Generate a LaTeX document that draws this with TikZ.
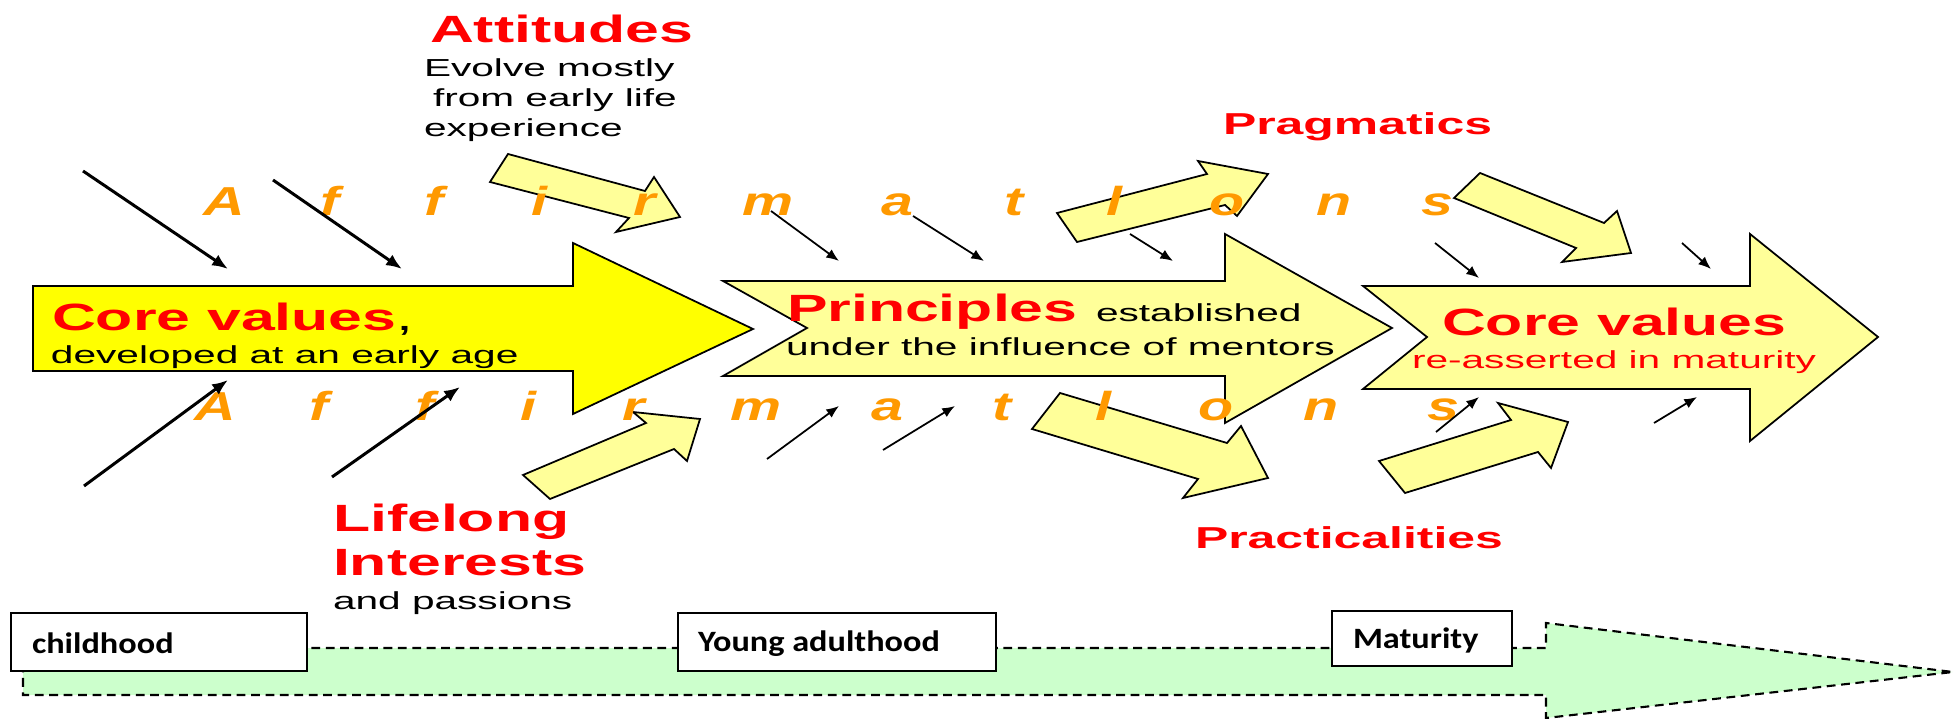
\documentclass[tikz,border=0pt]{standalone}
\usepackage{fontspec}
\setmainfont{Liberation Sans}
\newfontfamily\boxfont{Carlito}
\usetikzlibrary{arrows.meta}
\definecolor{cred}{HTML}{FF0000}
\definecolor{corange}{HTML}{FF9900}
\definecolor{cyel}{HTML}{FFFF00}
\definecolor{cpale}{HTML}{FFFF99}
\definecolor{cgreen}{HTML}{CCFFCC}
\newcommand\stB[1]{\scalebox{1.6}[1]{#1}}
\newcommand\stR[1]{\scalebox{1.65}[1]{#1}}
\newcommand\stM[1]{\scalebox{1.65}[1]{#1}}
\newcommand\stL[1]{\scalebox{1.42}[1]{#1}}
\newcommand\stC[1]{\scalebox{1.16}[1]{#1}}
\begin{document}
\begin{tikzpicture}[x=0.01cm,y=-0.01cm,
  lbl/.style={anchor=base west, inner sep=0pt, outer sep=0pt},
  big/.style={lbl, text=cred, font=\fontsize{10.8}{12}\selectfont\bfseries},
  mid/.style={lbl, text=cred, font=\fontsize{8.6}{10}\selectfont\bfseries},
  reg/.style={lbl, text=black, font=\fontsize{7}{8}\selectfont},
  aff/.style={lbl, text=corange, font=\fontsize{11.5}{13}\selectfont\bfseries\itshape},
  boxl/.style={lbl, text=black, font=\boxfont\bfseries\fontsize{8.4}{10}\selectfont},
  tbox/.style={draw=black, line width=0.7pt, fill=white, inner sep=0pt},
  blk/.style={draw=black, line width=0.5pt, fill=cpale, line join=miter},
  tl/.style={draw=black, line width=0.6pt, dash pattern=on 2.5pt off 1.6pt, fill=cgreen},
  thk/.style={line width=0.85pt, -{Latex[length=4.5pt,width=3.6pt]}},
  thn/.style={line width=0.5pt, -{Latex[length=3.6pt,width=2.9pt]}}
]
\useasboundingbox (0,0) rectangle (1955,719);

% timeline arrow
\draw[tl] (23,648) -- (1546,648) -- (1546,623) -- (1953,672) -- (1546,718) -- (1546,695) -- (23,695) -- cycle;

% period boxes
\node[tbox, minimum width=2.96cm, minimum height=0.58cm] (bx1) at (159,642) {};
\node[tbox, minimum width=3.18cm, minimum height=0.58cm] (bx2) at (837,642) {};
\node[tbox, minimum width=1.80cm, minimum height=0.55cm] (bx3) at (1422,638.5) {};
\node[boxl] (tc) at (32,653) {\stC{childhood}};
\node[boxl] (ty) at (698,652) {\stC{Young adulthood}};
\node[boxl] (tm) at (1353,649) {\stC{Maturity}};

% main arrows
\draw[blk, fill=cyel] (33,286) -- (573,286) -- (573,243) -- (753,329) -- (573,414) -- (573,371) -- (33,371) -- cycle;
\draw[blk] (723,281) -- (1225,281) -- (1225,234) -- (1392,328) -- (1225,423) -- (1225,376) -- (723,376) -- (807,328) -- cycle;
\draw[blk] (1363,286) -- (1750,286) -- (1750,234) -- (1878,337) -- (1750,441) -- (1750,389) -- (1363,389) -- (1427,337) -- cycle;

% side block arrows
\draw[blk] (508,154) -- (645,191) -- (654,177) -- (680,217) -- (616,232) -- (629,218) -- (490,182) -- cycle;
\draw[blk] (1057,213) -- (1207,174) -- (1198,161) -- (1268,174) -- (1237,216) -- (1225,205) -- (1077,242) -- cycle;
\draw[blk] (1060,393) -- (1227,443) -- (1241,426) -- (1268,478) -- (1183,498) -- (1198,479) -- (1032,429) -- cycle;
\draw[blk] (523,475) -- (646,423) -- (633,412) -- (700,419) -- (687,461) -- (674,449) -- (550,499) -- cycle;
\draw[blk] (1480,173) -- (1604,223) -- (1617,211) -- (1631,253) -- (1562,262) -- (1576,248) -- (1454,198) -- cycle;
\draw[blk] (1379,461) -- (1511,420) -- (1498,403) -- (1568,422) -- (1551,468) -- (1538,452) -- (1405,493) -- cycle;

% Affirmations letters
\foreach \x/\l [count=\i] in {203/A,320/f,424/f,531/i,633/r,742/m,881/a,1004/t,1106/l,1209/o,1316/n,1421/s}
  \node[aff] (ua\i) at (\x,216) {\stL{\l}};
\foreach \x/\l [count=\i] in {194/A,309/f,415/f,520/i,622/r,730/m,871/a,992/t,1095/l,1198/o,1303/n,1427/s}
  \node[aff] (la\i) at (\x,421) {\stL{\l}};

% small black arrows
\foreach \a/\b/\c/\d [count=\i] in {83/171/228/269, 273/180/402/269, 84/486/228/380, 332/477/460/387}
  {\coordinate (ks\i) at (\a,\b); \coordinate (ke\i) at (\c,\d); \draw[thk] (ks\i) -- (ke\i);}
\foreach \a/\b/\c/\d [count=\i] in {771/211/839/261, 913/216/984/261, 1130/234/1173/261, 1435/243/1479/278, 1682/243/1711/269,
  767/459/839/406, 883/450/955/406, 1436/432/1479/397, 1654/423/1697/397}
  {\coordinate (ns\i) at (\a,\b); \coordinate (ne\i) at (\c,\d); \draw[thn] (ns\i) -- (ne\i);}

% labels
\node[big] (att) at (430,43) {\stB{Attitudes}};
\node[reg] (ev1) at (424,77) {\stR{Evolve mostly}};
\node[reg] (ev2) at (433,107) {\stR{from early life}};
\node[reg] (ev3) at (424,137) {\stR{experience}};
\node[mid] (prag) at (1223,135) {\stM{Pragmatics}};
\node[mid] (prac) at (1195,548) {\stM{Practicalities}};
\node[big] (cv1) at (52,331) {\stB{Core values}\textcolor{black}{\mdseries\stB{,}}};
\node[reg] (dev) at (51,364) {\stR{developed at an early age}};
\node[big] (pr) at (787,322) {\stB{Principles}};
\node[reg] (est) at (1096,322) {\stR{established}};
\node[reg] (und) at (786,356) {\stR{under the influence of mentors}};
\node[big] (cv2) at (1442,336) {\stB{Core values}};
\node[reg, text=cred] (rea) at (1412,369) {\stR{re-asserted in maturity}};
\node[big] (lif) at (333,532) {\stB{Lifelong}};
\node[big] (int) at (333,576) {\stB{Interests}};
\node[reg] (pas) at (333,610) {\stR{and passions}};
\end{tikzpicture}
\end{document}
